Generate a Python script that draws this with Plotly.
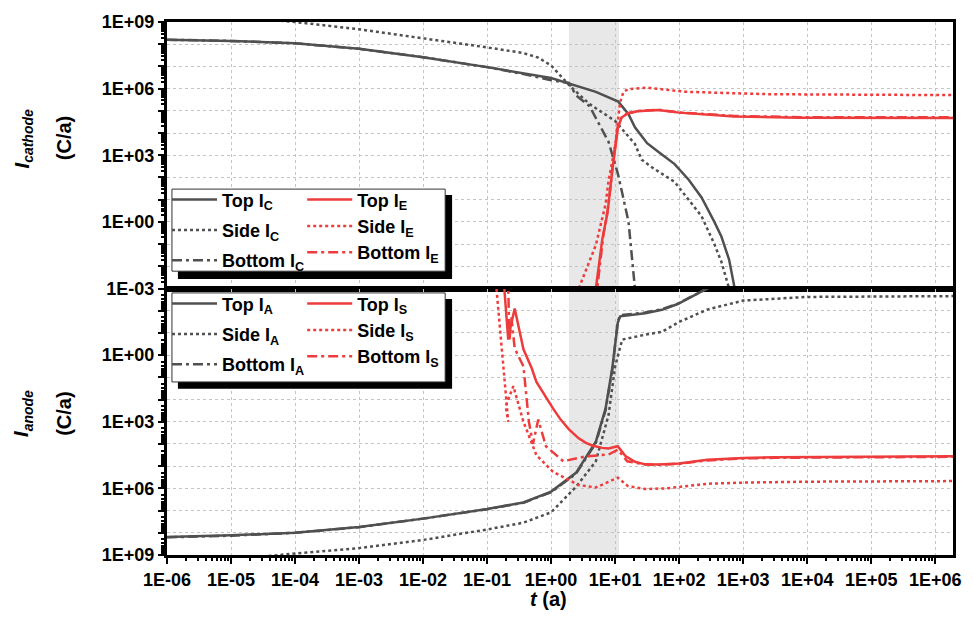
import plotly.graph_objects as go
from plotly.subplots import make_subplots

# ---------------- data (t in years, current magnitude in C/a) ----------------
top_ic_t = [1e-6, 1e-5, 1e-4, 1e-3, 1e-2, 0.1, 1.0, 1.9, 5.0, 11.2, 16.2, 20.4, 31.6, 50, 85, 141, 224, 355, 457, 603, 724, 800]
top_ic_i = [1.6e8, 1.4e8, 1.1e8, 6.2e7, 2.6e7, 9.3e6, 3.0e6, 1.7e6, 7.1e5, 2.6e5, 7.1e4, 1.8e4, 3.5e3, 1.26e3, 400, 79, 12.6, 1.0, 0.22, 0.02, 1e-3, 3e-4]

side_ic_t = [1e-6, 1e-5, 1e-4, 1e-3, 1e-2, 0.1, 0.37, 0.63, 1.0, 2.0, 4.0, 10, 20.4, 26, 38, 85, 224, 355, 457, 603, 650]
side_ic_i = [3.2e9, 1.8e9, 1.0e9, 4.7e8, 1.9e8, 7.2e7, 4.0e7, 2.5e7, 1.1e7, 1.26e6, 2.0e5, 3.5e4, 3.2e3, 630, 280, 63, 1.8, 0.1, 0.016, 1e-3, 3e-4]

bot_ic_t = [1e-6, 1e-5, 1e-4, 1e-3, 1e-2, 0.1, 0.37, 1.0, 1.9, 2.45, 4.0, 7.9, 11.2, 16.2, 20.4, 21.5]
bot_ic_i = [1.6e8, 1.4e8, 1.1e8, 6.2e7, 2.6e7, 9.3e6, 4.5e6, 2.4e6, 1.8e6, 5.0e5, 1.6e5, 4.0e3, 126, 1.0, 1e-3, 3e-4]

top_ie_t = [4.8, 5.0, 6.3, 7.6, 9.1, 11, 12.6, 15.8, 22.4, 47, 100, 724, 7940, 1.9e6]
top_ie_i = [3e-4, 1e-3, 0.16, 2.5, 250, 1.6e4, 5.0e4, 7.6e4, 9.5e4, 1.1e5, 8.3e4, 5.6e4, 4.9e4, 4.8e4]

side_ie_t = [2.6, 2.7, 5.0, 7.1, 7.9, 9.1, 10, 11, 12, 13.5, 15.8, 31.6, 126, 2500, 1.9e6]
side_ie_i = [3e-4, 1e-3, 0.09, 6.3, 70, 560, 2.5e3, 3.2e4, 2.5e5, 7.1e5, 9.3e5, 1.1e6, 7.2e5, 5.6e5, 5.1e5]

bot_ie_t = [5.1, 5.25, 6.6, 7.9, 9.3, 11, 12.6, 15.8, 22.4, 47, 100, 724, 7940, 1.9e6]
bot_ie_i = [3e-4, 1e-3, 0.3, 6, 500, 2.0e4, 5.2e4, 7.9e4, 9.8e4, 1.12e5, 8.5e4, 5.9e4, 5.2e4, 5.1e4]

top_ia_t = [1e-6, 1e-5, 1e-4, 1e-3, 1e-2, 0.1, 0.37, 1.0, 2.45, 5.0, 7.1, 9.1, 11, 12, 29.5, 54, 95, 275, 400]
top_ia_i = [1.55e8, 1.3e8, 1.0e8, 5.5e7, 2.3e7, 8.5e6, 4.3e6, 1.4e6, 2.0e5, 7.9e3, 250, 3.2, 0.035, 0.018, 0.013, 9.1e-3, 5.0e-3, 1e-3, 4e-4]

side_ia_t = [1e-6, 1e-5, 1e-4, 1e-3, 1e-2, 0.1, 0.37, 1.0, 2.45, 5.0, 7.9, 10, 12.9, 29.5, 54, 100, 275, 1000, 1e4, 1.9e6]
side_ia_i = [3.2e9, 1.6e9, 8.5e8, 4.9e8, 2.1e8, 7.1e7, 3.5e7, 1.2e7, 8.5e5, 6.0e4, 500, 3.2, 0.2, 0.12, 0.089, 0.032, 8.9e-3, 3.5e-3, 2.4e-3, 2.2e-3]

bot_ia_t = [1e-6, 1e-5, 1e-4, 1e-3, 1e-2, 0.1, 0.37, 1.0, 2.45, 5.0, 7.1, 9.1, 11, 12, 29.5, 54, 95, 275, 400]
bot_ia_i = [1.6e8, 1.35e8, 1.0e8, 5.6e7, 2.3e7, 8.7e6, 4.4e6, 1.5e6, 2.2e5, 9.0e3, 300, 4.0, 0.03, 0.016, 0.012, 8.5e-3, 4.8e-3, 1e-3, 4e-4]

top_is_t = [0.18, 0.186, 0.204, 0.214, 0.234, 0.27, 0.37, 0.5, 0.59, 0.79, 1.07, 1.41, 1.9, 2.7, 3.5, 4.5, 6.3, 7.9, 11, 14.5, 20.4, 29.5, 47, 100, 275, 1000, 3160, 1.9e6]
top_is_i = [3e-4, 1e-3, 0.032, 0.2, 0.05, 8e-3, 0.55, 4.0, 16, 63, 250, 800, 2.2e3, 5.6e3, 8.9e3, 1.2e4, 1.5e4, 1.6e4, 1.26e4, 3.5e4, 6.3e4, 8.3e4, 8.5e4, 7.6e4, 5.2e4, 4.3e4, 4.0e4, 3.6e4]

side_is_t = [0.135, 0.14, 0.18, 0.214, 0.195, 0.257, 0.37, 0.59, 1.07, 1.9, 2.7, 5.0, 9.1, 11, 15.8, 29.5, 63, 275, 1000, 1e4, 1.9e6]
side_is_i = [3e-4, 1e-3, 3.2, 1e3, 200, 25, 1e3, 3.2e4, 1.8e5, 4.0e5, 7.1e5, 9.1e5, 4.0e5, 3.3e5, 7.8e5, 1.07e6, 1.0e6, 6.2e5, 5.5e5, 5.0e5, 4.7e5]

bot_is_t = [0.21, 0.214, 0.224, 0.24, 0.27, 0.37, 0.45, 0.52, 0.63, 0.83, 1.55, 3.5, 7.9, 11, 15.5, 20.4, 29.5, 47, 100, 275, 1000, 3160, 1.9e6]
bot_is_i = [3e-4, 1e-3, 0.2, 0.02, 0.5, 3.2, 1e3, 1e4, 800, 1.26e4, 6.0e4, 3.6e4, 3.0e4, 1.8e4, 6.0e4, 7.1e4, 8.5e4, 8.7e4, 7.9e4, 5.5e4, 4.5e4, 4.2e4, 3.8e4]

shade_t = [1.9, 11.5]

x_tick_vals = [1e-6, 1e-5, 1e-4, 1e-3, 1e-2, 1e-1, 1e0, 1e1, 1e2, 1e3, 1e4, 1e5, 1e6]
x_tick_text = ["1E-06", "1E-05", "1E-04", "1E-03", "1E-02", "1E-01", "1E+00", "1E+01", "1E+02", "1E+03", "1E+04", "1E+05", "1E+06"]
y_tick_vals = [1e-3, 1e-2, 1e-1, 1e0, 1e1, 1e2, 1e3, 1e4, 1e5, 1e6, 1e7, 1e8, 1e9]
y_tick_text_top = ["1E-03", "", "", "1E+00", "", "", "1E+03", "", "", "1E+06", "", "", "1E+09"]
y_tick_text_bot = ["", "", "", "1E+00", "", "", "1E+03", "", "", "1E+06", "", "", "1E+09"]

# ---------------- styling ----------------
GRAY = "#505050"
RED = "#ee3b3b"
LW = 2.5
DASHDOT = "10px,4px,3px,4px"
FONT = "Liberation Sans"

fig = make_subplots(rows=2, cols=1, shared_xaxes=True, vertical_spacing=0)

def add(t, i, name, color, dash, row, legend):
    fig.add_trace(go.Scatter(x=t, y=i, mode="lines", name=name, legend=legend,
                             legendgroup=name,
                             line=dict(color=color, width=LW, dash=dash)),
                  row=row, col=1)

add(top_ic_t, top_ic_i, "Top I<sub>C</sub>", GRAY, "solid", 1, "legend")
add(side_ic_t, side_ic_i, "Side I<sub>C</sub>", GRAY, "dot", 1, "legend")
add(bot_ic_t, bot_ic_i, "Bottom I<sub>C</sub>", GRAY, DASHDOT, 1, "legend")
add(bot_ie_t, bot_ie_i, "Bottom I<sub>E</sub>", RED, DASHDOT, 1, "legend2")
add(side_ie_t, side_ie_i, "Side I<sub>E</sub>", RED, "dot", 1, "legend2")
add(top_ie_t, top_ie_i, "Top I<sub>E</sub>", RED, "solid", 1, "legend2")

add(top_ia_t, top_ia_i, "Top I<sub>A</sub>", GRAY, "solid", 2, "legend3")
add(side_ia_t, side_ia_i, "Side I<sub>A</sub>", GRAY, "dot", 2, "legend3")
add(bot_ia_t, bot_ia_i, "Bottom I<sub>A</sub>", GRAY, DASHDOT, 2, "legend3")
add(bot_is_t, bot_is_i, "Bottom I<sub>S</sub>", RED, DASHDOT, 2, "legend4")
add(side_is_t, side_is_i, "Side I<sub>S</sub>", RED, "dot", 2, "legend4")
add(top_is_t, top_is_i, "Top I<sub>S</sub>", RED, "solid", 2, "legend4")

minor_x = [k * 10.0 ** e for e in range(-6, 7) for k in range(2, 10)]
minor_y = [k * 10.0 ** e for e in range(-3, 9) for k in range(2, 10)]

tickfont = dict(family=FONT, size=18, color="black", weight="bold")
common_axis = dict(type="log", showline=True, linecolor="black", linewidth=3, mirror=True,
                   showgrid=True, gridcolor="#c4c4c4", griddash="dot", gridwidth=1,
                   ticks="outside", ticklen=6, tickwidth=2, tickcolor="black",
                   tickfont=tickfont, zeroline=False)

fig.update_xaxes(**common_axis, range=[-6, 6.278], tickmode="array", tickvals=x_tick_vals,
                 ticktext=x_tick_text,
                 minor=dict(tickmode="array", tickvals=minor_x, ticks="outside", ticklen=3,
                            tickwidth=1.5, tickcolor="black", showgrid=False))
fig.update_xaxes(showticklabels=False, ticks="", minor=dict(ticks=""), row=1, col=1)
fig.update_yaxes(**common_axis, tickmode="array", tickvals=y_tick_vals,
                 minor=dict(tickmode="array", tickvals=minor_y, ticks="outside", ticklen=3,
                            tickwidth=1.5, tickcolor="black", showgrid=False))
fig.update_yaxes(range=[-3, 9], ticktext=y_tick_text_top, row=1, col=1)
fig.update_yaxes(range=[9, -3], ticktext=y_tick_text_bot, row=2, col=1)

# shaded period
for r in (1, 2):
    fig.add_vrect(x0=shade_t[0], x1=shade_t[1], fillcolor="#e8e8e8", line_width=0,
                  layer="below", row=r, col=1)

# legend boxes with shadows
def box(x0, x1, y0, y1, fill, lw):
    fig.add_shape(type="rect", xref="paper", yref="paper", x0=x0, x1=x1, y0=y0, y1=y1,
                  fillcolor=fill, line=dict(color="#333333", width=lw), layer="above")

box(0.0139, 0.3627, 0.5176, 0.6753, "black", 0)
box(0.0063, 0.3539, 0.5325, 0.6865, "white", 1)
box(0.0139, 0.3627, 0.3117, 0.4805, "black", 0)
box(0.0063, 0.3539, 0.3247, 0.4917, "white", 1)

legfont = dict(family=FONT, size=18, color="black", weight="bold")
def leg(x, y):
    return dict(x=x, y=y, xanchor="left", yanchor="top", bgcolor="rgba(0,0,0,0)",
                borderwidth=0, font=legfont, itemwidth=45, tracegroupgap=4,
                orientation="v", traceorder="grouped")

fig.update_layout(
    width=973, height=627,
    margin=dict(l=167, r=12, t=16, b=72),
    paper_bgcolor="white", plot_bgcolor="white",
    showlegend=True,
    legend=leg(0.0, 0.701),
    legend2=leg(0.172, 0.701),
    legend3=leg(0.0, 0.506),
    legend4=leg(0.172, 0.506),
)
fig.update_layout(legend2_traceorder="reversed", legend4_traceorder="reversed")

title_font = dict(family=FONT, size=20, color="black")
def vtitle(text, x, y):
    fig.add_annotation(text=text, textangle=-90, xref="paper", yref="paper", x=x, y=y,
                       xanchor="center", yanchor="middle", showarrow=False, font=title_font)

vtitle("<b><i>I</i><sub><i>cathode</i></sub></b>", -0.183, 0.78)
vtitle("<b>(C/a)</b>", -0.131, 0.782)
vtitle("<b><i>I</i><sub><i>anode</i></sub></b>", -0.183, 0.265)
vtitle("<b>(C/a)</b>", -0.131, 0.265)
fig.add_annotation(text="<b><i>t</i> (a)</b>", xref="paper", yref="paper", x=0.486, y=-0.083,
                   xanchor="center", yanchor="middle",
                   showarrow=False, font=title_font)

fig.write_html("out.html")
